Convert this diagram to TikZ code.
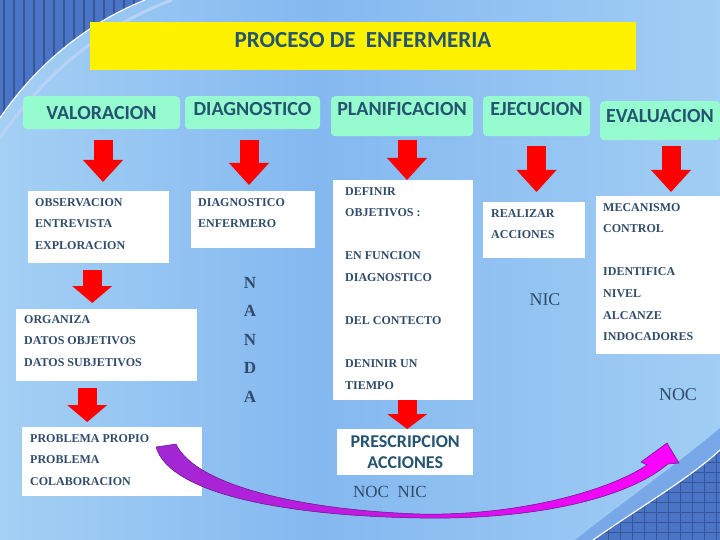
\documentclass[tikz,border=0pt]{standalone}
\usepackage{fontspec}
\setmainfont{Liberation Serif}
\newfontfamily\calibri{Carlito}
\usetikzlibrary{arrows.meta, calc}

\definecolor{ink}{RGB}{48,76,108}
\definecolor{hdink}{RGB}{36,84,112}
\definecolor{mint}{RGB}{150,252,208}
\definecolor{bgside}{RGB}{112,164,234}
\definecolor{bgmid}{RGB}{164,208,244}
\definecolor{bgdip}{RGB}{132,184,240}
\definecolor{deco}{RGB}{74,116,198}
\definecolor{band}{RGB}{120,168,232}
\definecolor{arrowviolet}{RGB}{160,40,210}
\definecolor{arrowblue}{RGB}{40,90,230}
\definecolor{arrowmag}{RGB}{255,0,255}
\pgfdeclarehorizontalshading{bgshade}{100bp}{color(0bp)=(bgside); color(25bp)=(bgmid);
  color(47bp)=(bgdip); color(78bp)=(bgmid); color(100bp)=(bgside)}

\begin{document}
\begin{tikzpicture}[x=1pt, y=-1pt,
  hdr/.style={fill=mint, rounded corners=4pt, anchor=north, inner sep=0pt,
              font=\calibri\bfseries\fontsize{20}{24}\selectfont, text=hdink},
  wbox/.style={fill=white, anchor=north west, inner sep=0pt},
  btext/.style={anchor=north west, inner sep=0pt, align=left, text=ink,
                font=\bfseries\fontsize{12}{21.6}\selectfont},
  tag/.style={text=ink, font=\fontsize{18}{20}\selectfont},
  redarrow/.style={red, line width=19pt,
                   -{Triangle[width=40pt, length=#1, line width=0pt]}},
  redarrow/.default=22pt]

  % Background
  \useasboundingbox (0,0) rectangle (720,540);
  \shade[shading=bgshade] (0,0) rectangle (720,540);

  % Corner decorations
  \begin{scope}
    \clip (0,0) -- (145,0) .. controls (90,22) and (38,62) .. (0,118) -- cycle;
    \fill[deco] (0,0) rectangle (145,118);
    \foreach \x in {4,14,...,144}
      \draw[deco!75!black, line width=2pt] (\x,0) -- (\x,120);
  \end{scope}
  \draw[white!50!bgside, line width=3pt] (0,138) .. controls (45,72) and (105,25) .. (172,0);
  \draw[white, line width=1.2pt] (0,118) .. controls (38,62) and (90,22) .. (145,0);

  \fill[band] (575,540) .. controls (630,497) and (685,458) .. (720,428) -- (720,540) -- cycle;
  \begin{scope}
    \clip (593,540) .. controls (640,507) and (690,478) .. (720,450) -- (720,540) -- cycle;
    \fill[deco] (590,445) rectangle (720,540);
    \foreach \x in {596,608,...,716}
      \draw[deco!75!black, line width=1pt] (\x,445) -- (\x,540);
    \foreach \y in {452,462,...,540}
      \draw[deco!75!black, line width=0.6pt] (590,\y) -- (720,\y);
  \end{scope}
  \draw[white, line width=1.2pt] (593,540) .. controls (640,507) and (690,478) .. (720,450);

  % Title
  \node[fill=yellow, anchor=north, minimum width=546pt, inner sep=0pt,
        text height=25.5pt, text depth=22.5pt, text=hdink,
        font=\calibri\bfseries\fontsize{23}{26}\selectfont] (title) at (363,22) {PROCESO DE~ ENFERMERIA};

  % Stages
  \node[hdr, minimum width=157pt, text height=23pt, text depth=10pt] (val) at (101.5,96) {VALORACION};
  \node[hdr, minimum width=135pt, text height=19pt, text depth=14pt] (diag) at (252.5,96) {DIAGNOSTICO};
  \node[hdr, minimum width=142pt, text height=19pt, text depth=21pt] (plan) at (402,96) {PLANIFICACION};
  \node[hdr, minimum width=107pt, text height=19pt, text depth=21pt] (ejec) at (536.5,96) {EJECUCION};
  \node[hdr, minimum width=120pt, text height=21pt, text depth=18pt] (eval) at (660,101) {EVALUACION};

  % Boxes
  \node[wbox, minimum width=141pt, minimum height=72pt] (obs) at (28,191) {};
  \node[wbox, minimum width=124pt, minimum height=57pt] (dgn) at (191,191) {};
  \node[wbox, minimum width=181pt, minimum height=72pt] (org) at (16,309) {};
  \node[wbox, minimum width=180pt, minimum height=69pt] (prob) at (22,427) {};
  \node[wbox, minimum width=140pt, minimum height=220pt] (planb) at (333,180) {};
  \node[wbox, minimum width=102pt, minimum height=56pt] (real) at (483,202) {};
  \node[wbox, minimum width=124pt, minimum height=158pt] (evalb) at (596,196) {};
  \node[wbox, minimum width=136pt, minimum height=46pt, align=center, text=hdink,
        font=\calibri\bfseries\fontsize{18}{21}\selectfont] (presc) at (337,429) {PRESCRIPCION\\ACCIONES};

  % Box texts
  \node[btext] (obst) at (35,198) {OBSERVACION\\ENTREVISTA\\EXPLORACION};
  \node[btext] (dgnt) at (198,198) {DIAGNOSTICO\\ENFERMERO};
  \node[btext] (orgt) at (24,315) {ORGANIZA\\DATOS OBJETIVOS\\DATOS SUBJETIVOS};
  \node[btext] (probt) at (30,434) {PROBLEMA PROPIO\\PROBLEMA\\COLABORACION};
  \node[btext] (plant) at (345,187) {DEFINIR\\OBJETIVOS :\\~\\EN FUNCION\\DIAGNOSTICO\\~\\DEL CONTECTO\\~\\DENINIR UN\\TIEMPO};
  \node[btext] (realt) at (491,209) {REALIZAR\\ACCIONES};
  \node[btext] (evalt) at (603,203) {MECANISMO\\CONTROL\\~\\IDENTIFICA\\NIVEL\\ALCANZE\\INDOCADORES};

  % Labels
  \node[tag, anchor=north, align=center, inner sep=0pt,
        font=\bfseries\fontsize{17}{28.5}\selectfont] (nanda) at (250,277) {N\\A\\N\\D\\A};
  \node[tag] (nic) at (545,300) {NIC};
  \node[tag] (noc) at (678,395) {NOC};
  \node[tag, font=\fontsize{17}{18}\selectfont] (nocnic) at (390,492) {NOC~~NIC};

  % Red arrows
  \draw[redarrow, shorten <=11pt, shorten >=9pt] ([xshift=1.5pt]val.south) -- ([xshift=1.5pt]val.south |- obs.north);
  \draw[redarrow, shorten <=11pt, shorten >=6pt] ([xshift=-3.5pt]diag.south) -- ([xshift=-3.5pt]diag.south |- dgn.north);
  \draw[redarrow, shorten <=4pt] ([xshift=5pt]plan.south) -- ([xshift=5pt]plan.south |- planb.north);
  \draw[redarrow, shorten <=10pt, shorten >=10pt] (ejec.south) -- (ejec.south |- real.north);
  \draw[redarrow, shorten <=6pt, shorten >=4pt] ([xshift=11pt]eval.south) -- ([xshift=11pt]eval.south |- evalb.north);
  \draw[redarrow=17pt, shorten <=7pt, shorten >=6pt] ([xshift=-6.5pt]obs.south) -- ([xshift=-6.5pt]obs.south |- org.north);
  \draw[redarrow=17pt, shorten <=7pt, shorten >=5pt] ([xshift=-19.5pt]org.south) -- ([xshift=-19.5pt]org.south |- prob.north);
  \draw[redarrow=15pt] ([xshift=4pt]planb.south) -- ([xshift=4pt]planb.south |- presc.north);

  % Curved arrow
  \shadedraw[left color=arrowviolet, middle color=arrowblue, right color=arrowmag,
             draw=arrowviolet!60!black, line width=0.5pt]
    (156,447) -- (176,444) .. controls (195,485) and (300,510) .. (420,514)
    .. controls (520,516) and (610,490) .. (647,465)
    -- (641,462) -- (667,443) -- (679,463) -- (668,464)
    .. controls (625,500) and (530,520) .. (420,518)
    .. controls (290,516) and (170,495) .. (156,447) -- cycle;
\end{tikzpicture}
\end{document}
